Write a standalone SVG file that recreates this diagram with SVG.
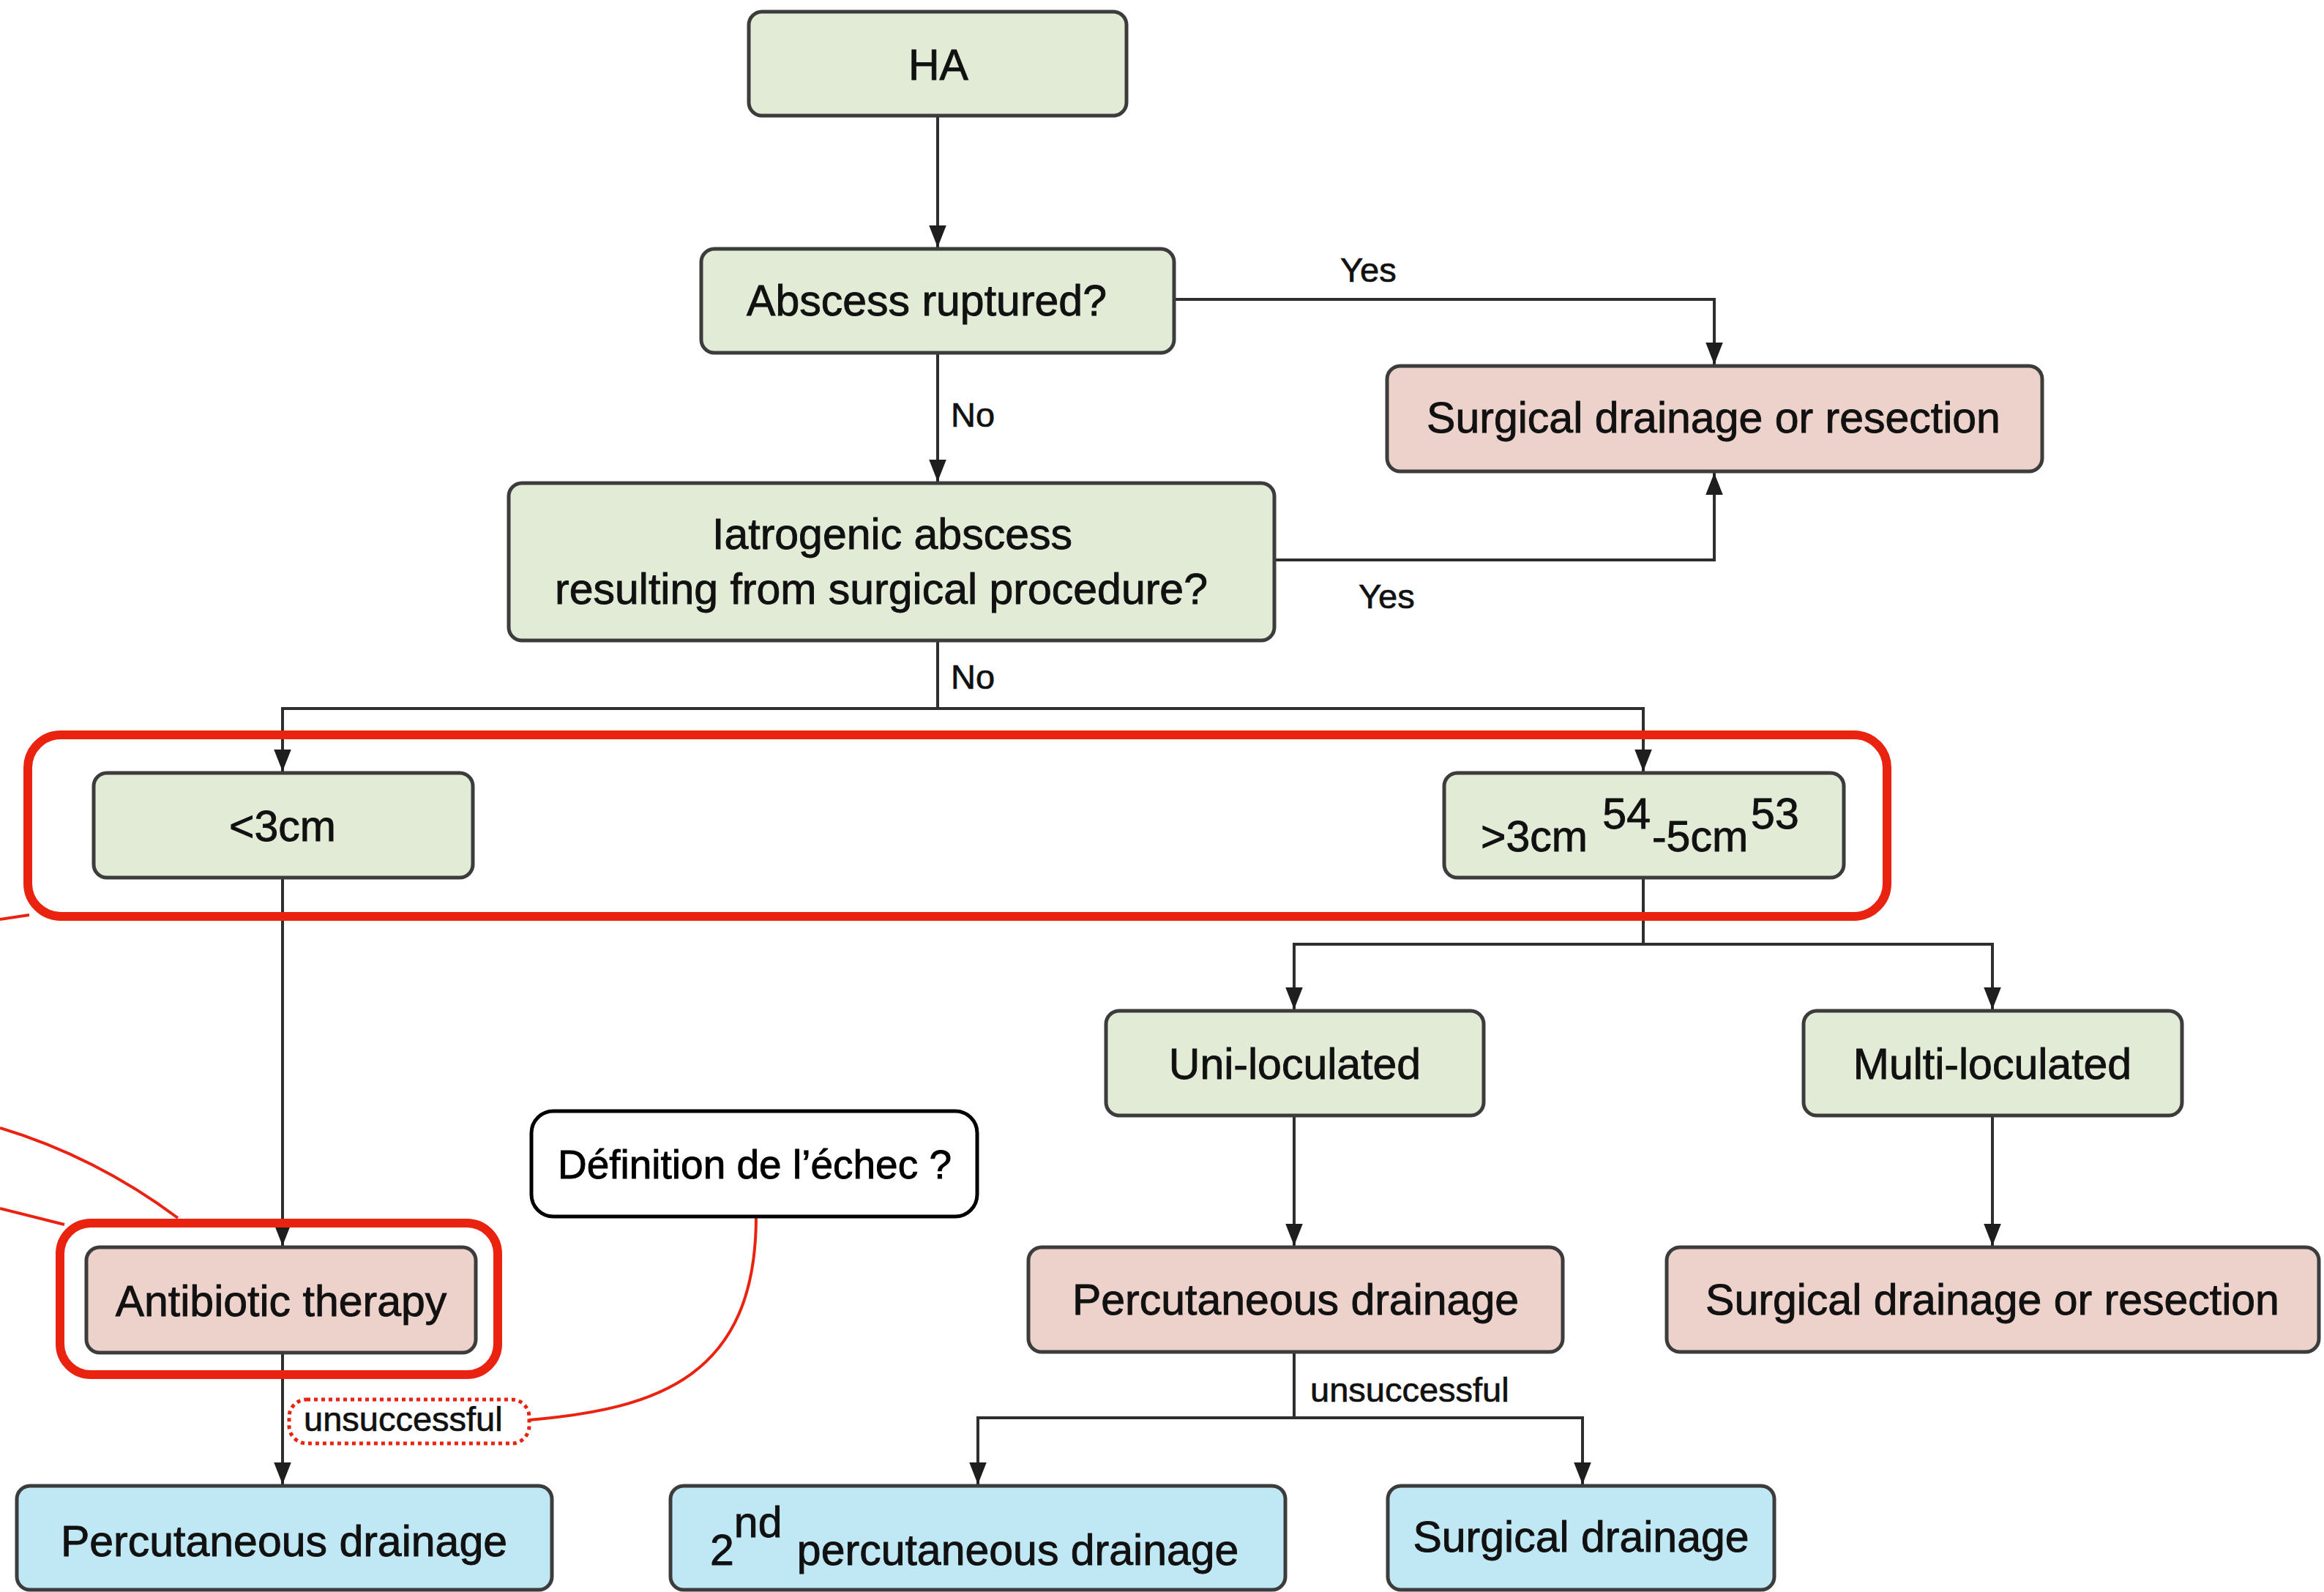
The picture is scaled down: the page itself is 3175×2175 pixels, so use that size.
<svg xmlns="http://www.w3.org/2000/svg" width="3175" height="2175" viewBox="0 0 3175 2175">
<style>
.box{stroke:#3c3c3c;stroke-width:5}
.g{fill:#e1ebd6}
.p{fill:#ecd2ca}
.b{fill:#c0e7f4}
.t{font-family:"Liberation Sans",Arial,sans-serif;font-size:59px;fill:#111;stroke:#111;stroke-width:0.9;text-anchor:middle}
.l{font-family:"Liberation Sans",Arial,sans-serif;font-size:47px;fill:#111;stroke:#111;stroke-width:0.7}
.c{fill:none;stroke:#2e2e2e;stroke-width:4}
.red{fill:none;stroke:#ea2210}
</style>
<defs>
<marker id="arr" markerUnits="userSpaceOnUse" markerWidth="30" markerHeight="24" viewBox="0 0 28 22" refX="28" refY="11" orient="auto">
<path d="M0,0 L28,11 L0,22 z" fill="#1e1e1e"/>
</marker>
</defs>
<rect width="3175" height="2175" fill="#fff"/>

<g id="connectors">
<path class="c" d="M1281,158 V338" marker-end="url(#arr)"/>
<path class="c" d="M1281,482 V658" marker-end="url(#arr)"/>
<path class="c" d="M1604,409 H2342 V498" marker-end="url(#arr)"/>
<path class="c" d="M1741,765 H2342 V646" marker-end="url(#arr)"/>
<path class="c" d="M1281,875 V968 H386 V1054" marker-end="url(#arr)"/>
<path class="c" d="M1281,968 H2245 V1054" marker-end="url(#arr)"/>
<path class="c" d="M386,1199 V1702" marker-end="url(#arr)"/>
<path class="c" d="M386,1848 V2028" marker-end="url(#arr)"/>
<path class="c" d="M2245,1199 V1290 H1768 V1379" marker-end="url(#arr)"/>
<path class="c" d="M2245,1290 H2722 V1379" marker-end="url(#arr)"/>
<path class="c" d="M1768,1524 V1702" marker-end="url(#arr)"/>
<path class="c" d="M2722,1524 V1702" marker-end="url(#arr)"/>
<path class="c" d="M1768,1847 V1937 H1336 V2028" marker-end="url(#arr)"/>
<path class="c" d="M1768,1937 H2162 V2028" marker-end="url(#arr)"/>
<text class="l" x="1831" y="385">Yes</text>
<text class="l" x="1299" y="583">No</text>
<text class="l" x="1856" y="831">Yes</text>
<text class="l" x="1299" y="941">No</text>
<text class="l" x="1790" y="1915">unsuccessful</text>
<text class="l" x="415" y="1955">unsuccessful</text>
</g>

<g id="HA"><rect class="box g" x="1023" y="16" width="516" height="142" rx="18"/><text class="t" x="1282" y="109">HA</text></g>
<g id="abscess-ruptured"><rect class="box g" x="958" y="340" width="646" height="142" rx="18"/><text class="t" x="1266" y="431">Abscess ruptured?</text></g>
<g id="surgical-top"><rect class="box p" x="1895" y="500" width="895" height="144" rx="18"/><text class="t" x="2341" y="591">Surgical drainage or resection</text></g>
<g id="iatrogenic"><rect class="box g" x="695" y="660" width="1046" height="215" rx="18"/><text class="t" x="1219" y="750">Iatrogenic abscess</text><text class="t" x="1204" y="825">resulting from surgical procedure?</text></g>
<g id="lt3cm"><rect class="box g" x="128" y="1056" width="518" height="143" rx="18"/><text class="t" x="386" y="1149">&lt;3cm</text></g>
<g id="gt3cm"><rect class="box g" x="1973" y="1056" width="546" height="143" rx="18"/><text class="t" style="text-anchor:start" x="2023" y="1163">&gt;3cm <tspan dx="4" dy="-31">54</tspan><tspan dx="2" dy="31">-5cm</tspan><tspan dx="4" dy="-31">53</tspan></text></g>
<g id="uni"><rect class="box g" x="1511" y="1381" width="516" height="143" rx="18"/><text class="t" x="1769" y="1474">Uni-loculated</text></g>
<g id="multi"><rect class="box g" x="2464" y="1381" width="517" height="143" rx="18"/><text class="t" x="2722" y="1474">Multi-loculated</text></g>
<g id="antibiotic"><rect class="box p" x="118" y="1704" width="532" height="144" rx="18"/><text class="t" x="384" y="1798">Antibiotic therapy</text></g>
<g id="perc-right"><rect class="box p" x="1405" y="1704" width="730" height="143" rx="18"/><text class="t" x="1770" y="1796">Percutaneous drainage</text></g>
<g id="surgical-right"><rect class="box p" x="2277" y="1704" width="891" height="143" rx="18"/><text class="t" x="2722" y="1796">Surgical drainage or resection</text></g>
<g id="perc-left"><rect class="box b" x="23" y="2030" width="731" height="142" rx="18"/><text class="t" x="388" y="2126">Percutaneous drainage</text></g>
<g id="second-perc"><rect class="box b" x="916" y="2030" width="840" height="142" rx="18"/><text class="t" style="text-anchor:start" x="970" y="2138">2<tspan dy="-38">nd</tspan><tspan dx="4" dy="38"> percutaneous drainage</tspan></text></g>
<g id="surgical-blue"><rect class="box b" x="1896" y="2030" width="528" height="142" rx="18"/><text class="t" x="2160" y="2120">Surgical drainage</text></g>

<g id="annotations">
<rect class="red" x="38" y="1004" width="2540" height="248" rx="45" stroke-width="12"/>
<rect class="red" x="82" y="1671" width="598" height="207" rx="42" stroke-width="12"/>
<path class="red" stroke-width="4" d="M0,1256 L40,1250"/>
<path class="red" stroke-width="4" d="M0,1541 Q130,1580 243,1664"/>
<path class="red" stroke-width="4" d="M0,1651 L88,1673"/>
<path class="red" stroke-width="4" d="M1033,1662 C1033,1880 900,1925 723,1940"/>
<rect class="red" x="395" y="1912" width="328" height="60" rx="24" stroke-width="5" stroke-dasharray="5 5"/>
</g>
<g id="definition"><rect x="726" y="1518" width="609" height="144" rx="30" fill="#fff" stroke="#000" stroke-width="5"/><text class="t" style="fill:#000;stroke:#000;font-size:55px" x="1031" y="1610">Définition de l’échec ?</text></g>
</svg>
